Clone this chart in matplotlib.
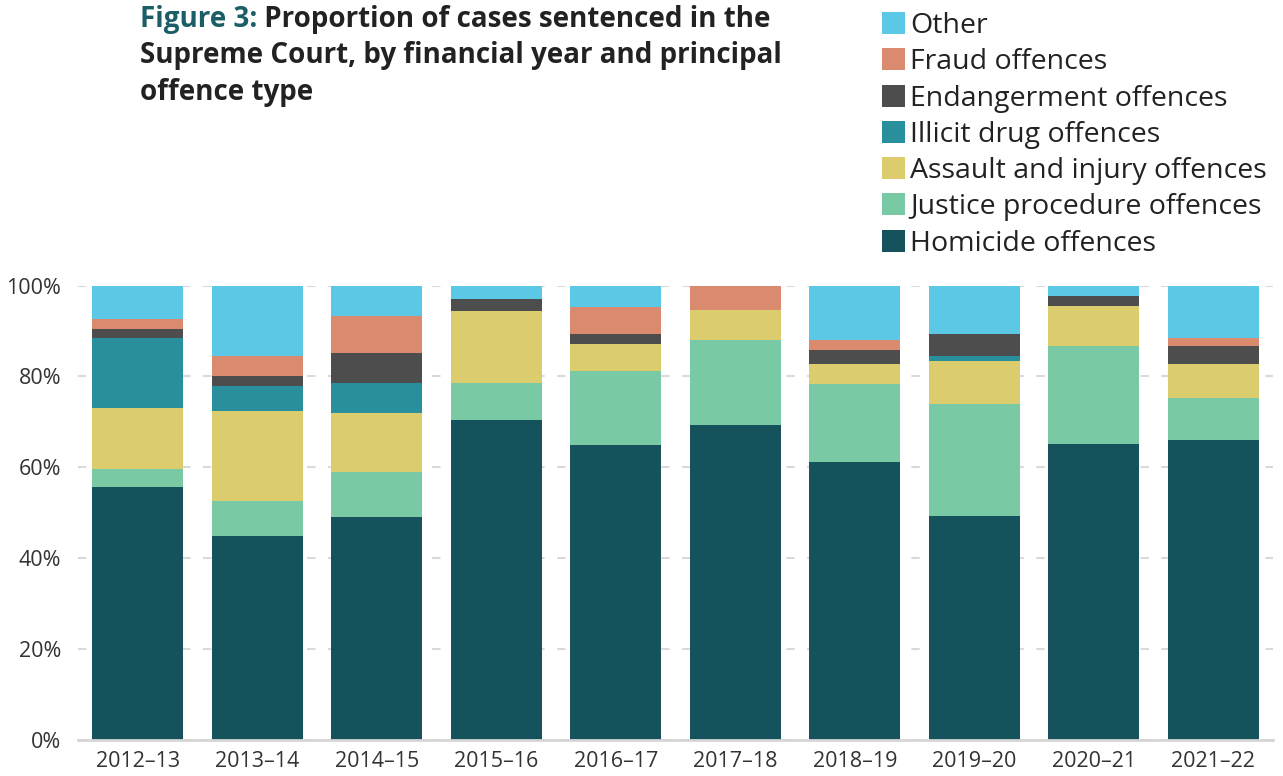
import numpy as np
import matplotlib.pyplot as plt

# financial years (x categories)
years = ['2012–13', '2013–14', '2014–15', '2015–16', '2016–17',
         '2017–18', '2018–19', '2019–20', '2020–21', '2021–22']

# proportion of cases (%) by principal offence type
homicide = [55.6, 44.8, 49.0, 70.4, 64.9, 69.3, 61.1, 49.2, 65.1, 66.0]
justice = [4.0, 7.7, 9.9, 8.1, 16.3, 18.7, 17.2, 24.7, 21.6, 9.2]
assault = [13.4, 19.9, 13.0, 15.9, 5.9, 6.6, 4.4, 9.5, 8.8, 7.5]
drugs = [15.5, 5.5, 6.6, 0.0, 0.0, 0.0, 0.0, 1.1, 0.0, 0.0]
endanger = [2.0, 2.2, 6.6, 2.7, 2.2, 0.0, 3.1, 4.8, 2.3, 4.0]
fraud = [2.2, 4.5, 8.2, 0.0, 6.0, 5.4, 2.2, 0.0, 0.0, 1.8]
other = [7.3, 15.4, 6.7, 2.9, 4.7, 0.0, 12.0, 10.7, 2.2, 11.5]

series = [
    ('Homicide offences', homicide, '#15525C'),
    ('Justice procedure offences', justice, '#79C9A4'),
    ('Assault and injury offences', assault, '#DBCC6E'),
    ('Illicit drug offences', drugs, '#298F9C'),
    ('Endangerment offences', endanger, '#4D4D4D'),
    ('Fraud offences', fraud, '#DA8A6E'),
    ('Other', other, '#5BC9E6'),
]

W, H = 1283, 776
plt.rcParams['font.family'] = ['Open Sans', 'DejaVu Sans']

fig = plt.figure(figsize=(W / 100, H / 100), dpi=100)
ax = fig.add_axes([78 / W, 1 - 739.5 / H, (1273 - 78) / W, (739.5 - 285.7) / H])

x = np.arange(len(years))
bottom = np.zeros(len(years))
handles = []
for name, vals, col in series:
    bars = ax.bar(x, vals, 0.76, bottom=bottom, color=col, label=name, zorder=2)
    bottom += np.array(vals)
    handles.append(bars)

ax.set_xlim(-0.5, len(years) - 0.5)
ax.set_ylim(0, 100)
ax.set_yticks([0, 20, 40, 60, 80, 100])
ax.set_yticklabels([f'{v}%' for v in [0, 20, 40, 60, 80, 100]])
ax.set_xticks(x)
ax.set_xticklabels(years)
ax.tick_params(axis='both', length=0, labelsize=15.5, labelcolor='#333333')
ax.tick_params(axis='y', pad=12)
ax.tick_params(axis='x', pad=8)
ax.yaxis.grid(True, color='#D9D9D9', linewidth=1.5, linestyle=(0, (4, 6)), zorder=0)
for s in ['left', 'right', 'top']:
    ax.spines[s].set_visible(False)
ax.spines['bottom'].set_color('#D6D6D6')
ax.spines['bottom'].set_linewidth(2)
ax.spines['bottom'].set_zorder(3)

# title: "Figure 3:" in teal, the rest in near-black
tsize = 20
t1 = fig.text(140 / W, 1 - 27 / H, 'Figure 3:', fontsize=tsize, fontweight='bold',
              color='#1B5E66', va='baseline')
fig.add_artist(plt.Annotation(' Proportion of cases sentenced in the', xy=(1, 0),
                              xycoords=t1, va='bottom', fontsize=tsize,
                              fontweight='bold', color='#222222'))
fig.text(140 / W, 1 - 63 / H, 'Supreme Court, by financial year and principal',
         fontsize=tsize, fontweight='bold', color='#222222', va='baseline')
fig.text(140 / W, 1 - 100 / H, 'offence type', fontsize=tsize, fontweight='bold',
         color='#222222', va='baseline')

leg = fig.legend(handles[::-1], [s[0] for s in series][::-1],
                 loc='upper left', bbox_to_anchor=(882 / W, 1 - 12 / H),
                 frameon=False, fontsize=20.5, handlelength=0.81, handleheight=0.81,
                 handletextpad=0.17, labelspacing=0.29, borderpad=0, borderaxespad=0)
for t in leg.get_texts():
    t.set_color('#222222')

plt.savefig('out.png', dpi=100)
